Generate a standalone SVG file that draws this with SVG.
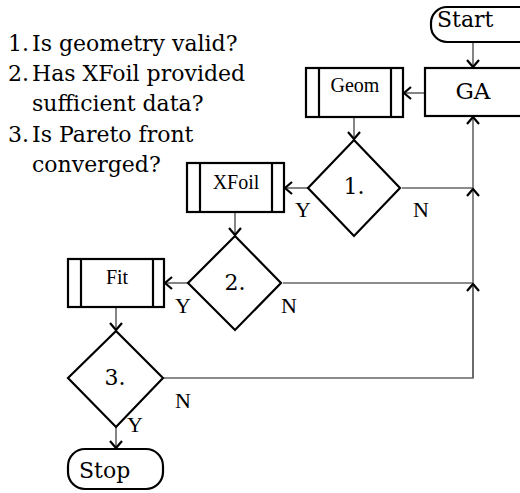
<svg xmlns="http://www.w3.org/2000/svg" width="520" height="493" viewBox="0 0 520 493">
<style>
.shape{fill:#fff;stroke:#000;stroke-width:2.2}
.inner{stroke:#000;stroke-width:2.2}
.conn{fill:none;stroke:#666;stroke-width:1.6}
.big{font-family:"DejaVu Serif",serif;font-size:22px;fill:#000}
.small{font-family:"Liberation Serif","Times New Roman",serif;font-size:20px;fill:#000}
.yn{font-family:"Liberation Serif","Times New Roman",serif;font-size:22px;fill:#000}
</style>
<defs>
<marker id="arr" markerUnits="userSpaceOnUse" markerWidth="20" markerHeight="20" viewBox="-10 -10 20 20" refX="0" refY="0" orient="auto">
<path d="M-7,-6 L0,0 L-7,6" fill="none" stroke="#000" stroke-width="2.2"/>
</marker>
</defs>
<g id="legend">
<text class="big" x="8" y="51">1.</text><text class="big" x="32" y="51">Is geometry valid?</text>
<text class="big" x="8" y="81">2.</text><text class="big" x="32" y="81">Has XFoil provided</text>
<text class="big" x="32" y="111">sufficient data?</text>
<text class="big" x="8" y="142">3.</text><text class="big" x="32" y="142">Is Pareto front</text>
<text class="big" x="32" y="172">converged?</text>
</g>
<g id="connectors">
<line class="conn" x1="473" y1="42" x2="473" y2="67" marker-end="url(#arr)"/>
<line class="conn" x1="425" y1="93" x2="404" y2="93" marker-end="url(#arr)"/>
<line class="conn" x1="354" y1="117" x2="354" y2="139" marker-end="url(#arr)"/>
<line class="conn" x1="308" y1="188" x2="285" y2="188" marker-end="url(#arr)"/>
<line class="conn" x1="235" y1="212" x2="235" y2="235" marker-end="url(#arr)"/>
<line class="conn" x1="188" y1="283" x2="165" y2="283" marker-end="url(#arr)"/>
<line class="conn" x1="116" y1="307" x2="116" y2="330" marker-end="url(#arr)"/>
<line class="conn" x1="116" y1="427" x2="116" y2="448" marker-end="url(#arr)"/>
<line class="conn" x1="402" y1="188" x2="473" y2="188"/>
<line class="conn" x1="283" y1="283" x2="473" y2="283"/>
<polyline class="conn" points="164,378 473,378 473,284"/>
<line class="conn" x1="473" y1="378" x2="473" y2="284" marker-end="url(#arr)"/>
<line class="conn" x1="473" y1="283" x2="473" y2="189" marker-end="url(#arr)"/>
<line class="conn" x1="473" y1="188" x2="473" y2="117" marker-end="url(#arr)"/>
</g>
<g id="start">
<rect class="shape" x="431" y="7" width="110" height="35" rx="16"/>
<text class="big" x="437" y="27">Start</text>
</g>
<g id="ga">
<rect class="shape" x="425" y="68" width="110" height="48"/>
<text class="big" x="473" y="99" text-anchor="middle" style="font-size:23px">GA</text>
</g>
<g id="geom">
<rect class="shape" x="306" y="68" width="97" height="49"/>
<line class="inner" x1="319" y1="68" x2="319" y2="117"/>
<line class="inner" x1="391" y1="68" x2="391" y2="117"/>
<text class="small" x="355" y="92" text-anchor="middle">Geom</text>
</g>
<g id="d1">
<polygon class="shape" points="354,140 400,188 354,236 308,188"/>
<text class="big" x="354" y="194" text-anchor="middle">1.</text>
<text class="yn" x="295" y="217">Y</text>
<text class="yn" x="413" y="217">N</text>
</g>
<g id="xfoil">
<rect class="shape" x="187" y="163" width="97" height="49"/>
<line class="inner" x1="200" y1="163" x2="200" y2="212"/>
<line class="inner" x1="272" y1="163" x2="272" y2="212"/>
<text class="small" x="236" y="189" text-anchor="middle">XFoil</text>
</g>
<g id="d2">
<polygon class="shape" points="235,236 281,283 235,330 188,283"/>
<text class="big" x="235" y="290" text-anchor="middle">2.</text>
<text class="yn" x="175" y="313">Y</text>
<text class="yn" x="281" y="313">N</text>
</g>
<g id="fit">
<rect class="shape" x="68" y="259" width="96" height="48"/>
<line class="inner" x1="81" y1="259" x2="81" y2="307"/>
<line class="inner" x1="153" y1="259" x2="153" y2="307"/>
<text class="small" x="117" y="284" text-anchor="middle">Fit</text>
</g>
<g id="d3">
<polygon class="shape" points="116,331 163,378 116,427 68,378"/>
<text class="big" x="115" y="385" text-anchor="middle">3.</text>
<text class="yn" x="175" y="408">N</text>
<text class="yn" x="127" y="432">Y</text>
</g>
<g id="stop">
<rect class="shape" x="68" y="449" width="95" height="40" rx="17"/>
<text class="big" x="79" y="478">Stop</text>
</g>
</svg>
